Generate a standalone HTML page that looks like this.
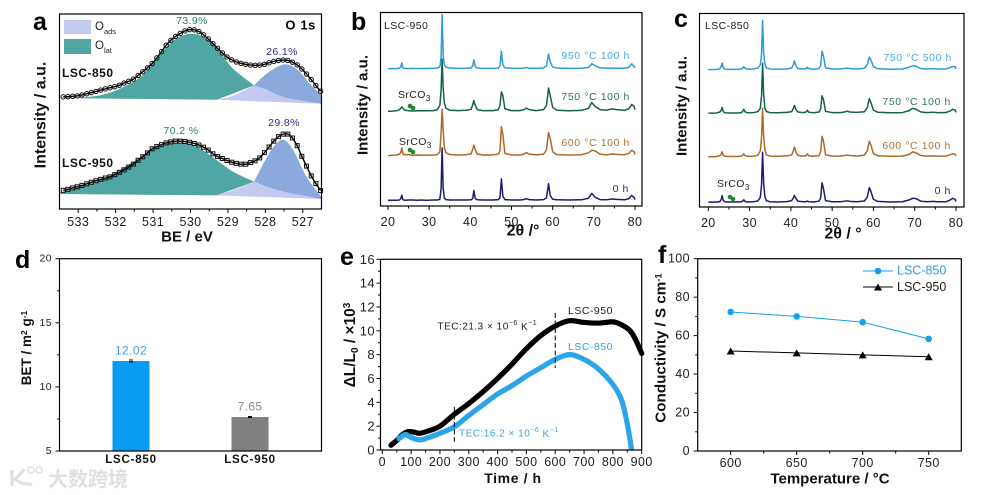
<!DOCTYPE html>
<html lang="en">
<head>
<meta charset="utf-8">
<title>LSC characterization figure</title>
<style>
html,body{margin:0;padding:0;background:#fff;width:991px;height:495px;overflow:hidden}
svg{display:block;font-family:"Liberation Sans","Noto Sans CJK SC",sans-serif}
text{fill:#222}
.letter{font-size:25px;font-weight:bold;fill:#000}
.ax{font-size:15px;font-weight:bold;fill:#111}
</style>
</head>
<body>
<svg id="fig" width="991" height="495" viewBox="0 0 991 495" xmlns="http://www.w3.org/2000/svg">
  <g id="pa"></g>
  <g id="pb"></g>
  <g id="pc"></g>
  <g id="pd"></g>
  <g id="pe"></g>
  <g id="pf"></g>

  <text class="letter" x="33" y="30">a</text>
  <text class="letter" x="351" y="30">b</text>
  <text class="letter" x="674" y="27">c</text>
  <text class="letter" x="15" y="268">d</text>
  <text class="letter" x="340" y="265">e</text>
  <text class="letter" x="658" y="263">f</text>

  <!-- axis titles -->
  <text class="ax" transform="translate(41,115) rotate(-90)" text-anchor="middle" dominant-baseline="central" style="font-size:16px">Intensity / a.u.</text>
  <text class="ax" x="187" y="237" text-anchor="middle" dominant-baseline="central">BE / eV</text>
  <text class="ax" transform="translate(363,105) rotate(-90)" text-anchor="middle" dominant-baseline="central">Intensity / a.u.</text>
  <text class="ax" x="523" y="231" text-anchor="middle" dominant-baseline="central" style="font-size:16px">2θ /°</text>
  <text class="ax" transform="translate(682,106) rotate(-90)" text-anchor="middle" dominant-baseline="central">Intensity / a.u.</text>
  <text class="ax" x="843" y="234" text-anchor="middle" dominant-baseline="central" style="font-size:16px">2θ / °</text>
  <text class="ax" transform="translate(31,348) rotate(-90)" text-anchor="middle" style="font-size:13.5px">BET / m<tspan dy="-4" font-size="8.5">2</tspan><tspan dy="4"> g</tspan><tspan dy="-4" font-size="8.5">-1</tspan></text>
  <text class="ax" transform="translate(355,345) rotate(-90)" text-anchor="middle" style="font-size:15.5px">ΔL/L<tspan dy="3" font-size="10">0</tspan><tspan dy="-3"> / ×10</tspan><tspan dy="-5" font-size="10">3</tspan></text>
  <text class="ax" x="513" y="478" text-anchor="middle" dominant-baseline="central" letter-spacing=".6" style="font-size:14px">Time / h</text>
  <text class="ax" transform="translate(665.5,348) rotate(-90)" text-anchor="middle" style="font-size:15.2px">Conductivity / S cm<tspan dy="-4" font-size="9.5">-1</tspan></text>
  <text class="ax" x="830" y="479" text-anchor="middle" dominant-baseline="central">Temperature / °C</text>

  <!-- watermark -->
  <g>
    <path d="M12 470 V486 M24 469 Q18 477 15 479 Q22 485 32 484" fill="none" stroke="#e0e0e0" stroke-width="3.2"/>
    <circle cx="31" cy="470" r="3" fill="none" stroke="#e0e0e0" stroke-width="1.5"/>
    <circle cx="39" cy="470" r="3" fill="none" stroke="#e0e0e0" stroke-width="1.5"/>
    <text x="48" y="486" font-size="20" font-weight="bold" style="fill:#e0e0e0">大数跨境</text>
  </g>
</svg>
<script>
/* ---------- panel a data ---------- */
var beGrid = [533.4,533.275,533.15,533.025,532.9,532.775,532.65,532.525,532.4,532.275,532.15,532.025,531.9,531.775,531.65,531.525,531.4,531.275,531.15,531.025,530.9,530.775,530.65,530.525,530.4,530.275,530.15,530.025,529.9,529.775,529.65,529.525,529.4,529.275,529.15,529.025,528.9,528.775,528.65,528.525,528.4,528.275,528.15,528.025,527.9,527.775,527.65,527.525,527.4,527.275,527.15,527.025,526.9,526.775,526.65,526.525];
var xps850 = [57.5,57.6,57.8,58,58.5,59.1,59.7,60.3,61,61.6,62.2,62.7,63.5,64.6,65.5,66.6,68.5,70.4,72.4,74.6,77.5,80.7,84,86.5,88.5,90,91.3,92,91.9,91,89.3,87.2,84.8,82.4,80,78,76.5,75.4,74.7,74.2,73.8,73.7,73.8,74.2,75,75.7,76.2,76.4,76.2,75.3,73.9,71.8,69.2,66.4,63.3,60.4];
var xps950 = [9.6,10.1,10.8,11.4,12.1,12.9,13.7,14.5,15.2,15.9,16.5,17.6,18.8,20.1,21.5,23,25,26.8,28.8,30.9,32,33,33.9,34.4,34.8,34.8,34.6,34.2,33.6,32.8,31.7,30.2,28.3,26.9,25.9,24.9,24,23.4,23,23,23.8,24.7,26.2,28.9,31.8,34.8,37.1,38.4,38.4,36.4,32.5,27,22,17,13,9.5];
var fit850TealBE = [533.5,532.41,531.53,531.08,530.64,530.28,529.92,529.57,529.21,528.86,528.3,529.3];
var fit850TealI = [56.9,58.3,65.1,72.7,83,88.4,89.8,87.2,80.4,71.9,63.4,56];
var fit850LavBE = [529.3,528.85,528.3,527.97,527.52,527.08,526.5];
var fit850LavI = [56,58.2,63.4,61.2,57.4,55.7,54];
var fit850BlueBE = [528.3,527.97,527.52,527.17,526.81,526.5,526.5,527.08,527.52,527.97];
var fit850BlueI = [63.4,69.3,74.1,71.9,64.2,58.3,54,55.7,57.4,61.2];
var fit950TealBE = [533.5,533.5,532.41,531.53,530.9,530.37,529.83,529.3,528.86,528.3,529.3];
var fit950TealI = [7.7,8.3,14.8,24.2,32.2,33.9,31.9,25,19.1,14,7];
var fit950LavBE = [529.3,528.86,528.3,527.97,527.52,527.08,526.5];
var fit950LavI = [7,9.7,14,11.4,8.9,7.2,5.1];
var fit950BlueBE = [528.3,528.05,527.78,527.52,527.25,526.9,526.5,526.5,527.08,527.52,527.97];
var fit950BlueI = [14,23.3,31.9,35.6,30,16.5,6.3,5.1,7.2,8.9,11.4];
var aTicks = [533,532,531,530,529,528,527];

/* ---------- panels b, c data ---------- */
var twoTheta = [20,21,22,22.8,23.1,23.35,23.6,24,25,26,27,28,28.3,28.6,28.9,29.5,31,32,32.6,32.9,33.15,33.4,33.7,34.1,35,37,39,40.2,40.6,40.85,41.2,41.7,43,43.7,44,44.3,45.5,46.8,47.2,47.55,47.9,48.4,50,52,53,53.6,54.3,56,57.8,58.5,59,59.4,60,61,64,67,68.7,69.5,70.3,71.5,73,74.4,75.5,77.5,78.5,79.2,79.8,80];
var b0h  = [0,0,0,.1,.8,2.6,.3,0,.1,.1,0,.1,0,.1,0,0,.1,.1,.5,6,27,6,1,.3,.1,.1,.1,.2,1,5,.9,.2,.1,.1,.1,.1,.1,.3,1.2,11,2,.3,.1,.1,.3,.8,.3,.1,.3,1.2,8.5,2.5,.5,.2,.1,.2,1,3.5,1.5,.3,.2,.6,.4,.2,.8,2.5,1.3,.3];
var b600 = [0,.2,.3,.8,1.5,4,1,.4,.6,.2,.4,.2,.3,.3,.2,.3,.3,.6,2,12,24,13,4,1.5,.6,.3,.5,1,3.5,5.5,3,.8,.4,.3,.4,.3,.4,.8,2.5,15,11,1.2,.4,.3,.8,1.6,.8,.4,.8,3,12,9,2,.6,.3,.5,1.5,2.8,2.5,.8,.4,.9,.7,.5,1.2,2.8,2,.5];
var b750 = [0,0,.2,.8,1.5,2.2,1.5,.6,.2,.1,.2,.2,.2,.3,.2,.2,.3,.8,3,11,27,12,4,1.5,.5,.3,.5,1,3.5,5.5,3,.8,.3,.3,.3,.3,.3,.8,3,10,8,1.2,.3,.3,.8,1.6,.8,.3,.8,3,12,8,2,.5,.2,.4,1.5,4.5,2.5,.8,.5,1.2,.8,.5,1.2,3.5,2.5,.8];
var b950 = [0,0,0,.2,.8,3,.6,.1,0,.1,0,.1,0,.1,0,.1,.1,.3,1,6,28,7,2,.7,.3,.1,.2,.4,1.5,4.5,1.2,.3,.1,.1,.1,.1,.1,.3,1.5,9,2,.4,.2,.1,.3,.6,.2,.1,.4,1.5,7.5,3.5,.8,.3,.1,.2,.6,2.5,1.5,.4,.2,.3,.2,.2,.7,2.5,1,.3];
var bOffsets = [3,26,49,71];
var c0h  = [0,0,0,.3,1.2,3.4,1,.2,.1,.1,.1,.2,.5,1.2,.4,.1,.2,.6,2.5,9,25.8,10,3,.7,.2,.1,.3,.8,2.2,3.5,2,.5,.2,.2,.6,.2,.1,.5,2,10,7,.8,.2,.2,.5,.7,.4,.2,.6,2.5,7.5,5.5,1.5,.4,.1,.2,1.2,2,1.8,.5,.2,.4,.2,.2,1,2,1.4,.3];
var c600 = [0,0,.1,.6,1.2,2.5,.8,.2,.1,.1,.1,.3,.7,1.5,.6,.2,.3,.8,3,10,25,11,3.5,.9,.3,.2,.4,.9,3,5,2.6,.7,.3,.5,1.5,.5,.2,.6,2.5,10.5,8,1,.3,.3,.6,.8,.6,.3,.8,3,8,6,1.6,.5,.2,.3,1.2,2.5,2,.6,.3,.4,.3,.3,.9,1.5,1.3,.4];
var c750 = [0,0,.1,.6,1.4,3,.9,.2,.1,.1,.1,.3,.9,2,.7,.2,.3,.8,2.5,9,25.8,10,2.6,.8,.3,.2,.4,.8,2.4,4,2,.6,.3,.6,1.5,.5,.2,.6,2,9,7,.9,.3,.3,.6,1,.6,.4,.7,2.8,7.5,5.5,1.5,.5,.2,.3,1.3,2.5,2,.6,.3,.5,.3,.3,1,2,1.6,.4];
var c500 = [0,0,.1,.5,1.5,3.5,1,.2,.1,.1,.1,.3,.7,1.5,.6,.2,.3,.8,2.5,8,25.5,9,3,.8,.3,.2,.4,.8,2.5,4.5,2.2,.6,.3,.5,1.2,.5,.2,.6,2,9.5,7,.9,.3,.3,.6,.8,.5,.3,.7,2.5,6.5,5,1.5,.5,.2,.3,1.2,2,1.8,.5,.3,.5,.3,.3,1,1.6,1.5,.4];
var cOffsets = [2.5,26,48.5,71];
var xrdTicks = [20,30,40,50,60,70,80];

/* ---------- panel d data ---------- */
var betSamples = ['LSC-850','LSC-950'];
var betValues = [12.02,7.65];
var betLabels = ['12.02','7.65'];
var betErrors = [0.08,0.04];
var betTicks = [5,10,15,20];

/* ---------- panel e data ---------- */
var tec950Time = [30,50,70,90,110,130,160,200,250,300,350,400,450,500,550,600,650,700,750,800,830,860,880,900];
var tec950Val  = [0.4,0.8,1.3,1.55,1.5,1.4,1.6,2,3,3.9,4.9,6,7.2,8.5,9.6,10.4,10.85,10.7,10.65,10.75,10.5,10,9.2,8.1];
var tec850Time = [50,60,80,100,130,160,200,250,300,350,400,450,500,550,600,650,700,750,800,830,850,865];
var tec850Val  = [0.9,1,1.3,1.05,0.85,1.05,1.4,1.95,2.9,3.8,4.7,5.4,6.2,6.9,7.6,8,7.6,6.8,5.5,4.2,2.2,0];
var eXTicks = [0,100,200,300,400,500,600,700,800,900];
var eYTicks = [0,2,4,6,8,10,12,14,16];
var tecMarkerTimes = [250,600];

/* ---------- panel f data ---------- */
var condTemps = [600,650,700,750];
var cond850 = [72.3,70,67,58.3];
var cond950 = [52,51,50,49];
var fXTicks = [600,650,700,750];
var fYTicks = [0,20,40,60,80,100];

/* ---------- helpers ---------- */
var NS = 'http://www.w3.org/2000/svg';
function mk(parent, tag, attrs, name, txt) {
  var el = document.createElementNS(NS, tag);
  for (var k in attrs) el.setAttribute(k, attrs[k]);
  
  
  if (txt !== undefined) el.textContent = txt;
  parent.appendChild(el);
  return el;
}
function linear(d0, d1, r0, r1) { return function (v) { return r0 + (v - d0) * (r1 - r0) / (d1 - d0); }; }
function pts(xs, ys, sx, sy) { return xs.map(function (x, i) { return sx(x).toFixed(2) + ',' + sy(ys[i]).toFixed(2); }).join(' '); }
/* Catmull-Rom spline through screen points; "from" and "to" bound the run */
function spline(xs, ys, sx, sy, from, to, move) {
  var P = [];
  for (var i = from; i <= to; i++) P.push([sx(xs[i]), sy(ys[i])]);
  var d = (move ? 'M' : 'L') + P[0][0].toFixed(2) + ' ' + P[0][1].toFixed(2);
  for (var j = 0; j < P.length - 1; j++) {
    var p0 = P[Math.max(j - 1, 0)], p1 = P[j], p2 = P[j + 1], p3 = P[Math.min(j + 2, P.length - 1)];
    d += ' C' + (p1[0] + (p2[0] - p0[0]) / 6).toFixed(2) + ' ' + (p1[1] + (p2[1] - p0[1]) / 6).toFixed(2) + ' ' +
      (p2[0] - (p3[0] - p1[0]) / 6).toFixed(2) + ' ' + (p2[1] - (p3[1] - p1[1]) / 6).toFixed(2) + ' ' +
      p2[0].toFixed(2) + ' ' + p2[1].toFixed(2);
  }
  return d;
}
function fillPath(xs, ys, sx, sy, breaks) {
  var d = '';
  for (var i = 0; i < breaks.length - 1; i++) d += spline(xs, ys, sx, sy, breaks[i], breaks[i + 1], i === 0) + ' ';
  return d + 'Z';
}
function frame(g, box, name) {
  mk(g, 'rect', {x: box.x0, y: box.y0, width: box.x1 - box.x0, height: box.y1 - box.y0, fill: 'none', stroke: '#000', 'stroke-width': 1.2}, name + '-frame');
}
function tickX(g, box, sx, ticks, minor, name, fs, labelY) {
  ticks.forEach(function (t) {
    mk(g, 'line', {x1: sx(t), x2: sx(t), y1: box.y1, y2: box.y1 + 4, stroke: '#000', 'stroke-width': 1}, name + '-x-tick');
    mk(g, 'text', {x: sx(t), y: labelY, 'text-anchor': 'middle', 'dominant-baseline': 'central', 'font-size': fs, 'letter-spacing': '.4'}, name + '-x-tick-label', t);
  });
  minor.forEach(function (t) {
    mk(g, 'line', {x1: sx(t), x2: sx(t), y1: box.y1, y2: box.y1 + 2.5, stroke: '#000', 'stroke-width': 1}, name + '-x-minor-tick');
  });
}
function tickY(g, box, sy, ticks, minor, name, fs, labelX) {
  ticks.forEach(function (t) {
    mk(g, 'line', {x1: box.x0 - 4, x2: box.x0, y1: sy(t), y2: sy(t), stroke: '#000', 'stroke-width': 1}, name + '-y-tick');
    mk(g, 'text', {x: labelX, y: sy(t), 'text-anchor': 'end', 'dominant-baseline': 'central', 'font-size': fs, 'letter-spacing': '.4'}, name + '-y-tick-label', t);
  });
  minor.forEach(function (t) {
    mk(g, 'line', {x1: box.x0 - 2.5, x2: box.x0, y1: sy(t), y2: sy(t), stroke: '#000', 'stroke-width': 1}, name + '-y-minor-tick');
  });
}
function midpoints(a) { var o = []; for (var i = 0; i < a.length - 1; i++) o.push((a[i] + a[i + 1]) / 2); return o; }
function label(g, x, y, s, color, name, anchor, size, extra) {
  var a = {x: x, y: y, 'dominant-baseline': 'central', 'text-anchor': anchor || 'start', 'font-size': size || 10.5, style: 'fill:' + color};
  if (extra) for (var k in extra) a[k] = extra[k];
  return mk(g, 'text', a, name, s);
}

/* ---------- panel a ---------- */
(function () {
  var g = document.getElementById('pa');
  var box = {x0: 59.5, x1: 321.5, y0: 14, y1: 209};
  var sx = linear(533.5, 526.5, box.x0, box.x1);
  var sy = linear(0, 100, box.y1, box.y0);
  var TEAL = '#4fa6a3', LAV = '#c4c9f0', BLUE = '#8aa9dc';
  mk(g, 'path', {d: fillPath(fit850TealBE, fit850TealI, sx, sy, [0, 10, 11]), fill: TEAL}, 'lsc-850-o-lat-fit');
  mk(g, 'path', {d: fillPath(fit850LavBE, fit850LavI, sx, sy, [0, 2, 6]), fill: LAV}, 'lsc-850-o-ads-tail');
  mk(g, 'path', {d: fillPath(fit850BlueBE, fit850BlueI, sx, sy, [0, 5, 6, 9]), fill: BLUE}, 'lsc-850-o-ads-fit');
  mk(g, 'path', {d: fillPath(fit950TealBE, fit950TealI, sx, sy, [0, 1, 9, 10]), fill: TEAL}, 'lsc-950-o-lat-fit');
  mk(g, 'path', {d: fillPath(fit950LavBE, fit950LavI, sx, sy, [0, 2, 6]), fill: LAV}, 'lsc-950-o-ads-tail');
  mk(g, 'path', {d: fillPath(fit950BlueBE, fit950BlueI, sx, sy, [0, 6, 7, 10]), fill: BLUE}, 'lsc-950-o-ads-fit');
  mk(g, 'path', {d: spline(beGrid, xps850, sx, sy, 0, beGrid.length - 1, true), fill: 'none', stroke: '#000', 'stroke-width': 1.4}, 'lsc-850-envelope-line');
  mk(g, 'path', {d: spline(beGrid, xps950, sx, sy, 0, beGrid.length - 1, true), fill: 'none', stroke: '#000', 'stroke-width': 1.4}, 'lsc-950-envelope-line');
  beGrid.forEach(function (b, i) {
    mk(g, 'circle', {cx: sx(b), cy: sy(xps850[i]), r: 2.2, fill: 'none', stroke: '#111', 'stroke-width': 1}, 'lsc-850-data-point');
    mk(g, 'rect', {x: sx(b) - 2, y: sy(xps950[i]) - 2, width: 4, height: 4, fill: 'none', stroke: '#111', 'stroke-width': 1}, 'lsc-950-data-point');
  });
  frame(g, box, 'panel-a');
  tickX(g, box, sx, aTicks, midpoints(aTicks), 'panel-a', 12.5, 222);
  mk(g, 'rect', {x: 64, y: 20, width: 27, height: 14, fill: LAV}, 'legend-swatch-o-ads');
  mk(g, 'rect', {x: 64, y: 39, width: 27, height: 15, fill: TEAL}, 'legend-swatch-o-lat');
  var t1 = label(g, 95, 27, 'O', '#222', 'legend-label-o-ads', 'start', 11.5);
  var s1 = document.createElementNS(NS, 'tspan'); s1.setAttribute('dy', 4); s1.setAttribute('font-size', 7.5); s1.textContent = 'ads'; t1.appendChild(s1);
  var t2 = label(g, 95, 46, 'O', '#222', 'legend-label-o-lat', 'start', 11.5);
  var s2 = document.createElementNS(NS, 'tspan'); s2.setAttribute('dy', 4); s2.setAttribute('font-size', 7.5); s2.textContent = 'lat'; t2.appendChild(s2);
  label(g, 316, 25, 'O 1s', '#000', 'core-level-label', 'end', 13, {'font-weight': 'bold', 'letter-spacing': '.6'});
  label(g, 192, 21, '73.9%', '#2f7d6e', 'lsc-850-o-lat-percent', 'middle', 10.5, {'letter-spacing': '.4'});
  label(g, 282, 52, '26.1%', '#2b2f85', 'lsc-850-o-ads-percent', 'middle', 10.5, {'letter-spacing': '.4'});
  label(g, 181, 131, '70.2 %', '#2f7d6e', 'lsc-950-o-lat-percent', 'middle', 10.5, {'letter-spacing': '.4'});
  label(g, 284, 123, '29.8%', '#2b2f85', 'lsc-950-o-ads-percent', 'middle', 10.5, {'letter-spacing': '.4'});
  label(g, 62, 73, 'LSC-850', '#111', 'lsc-850-label', 'start', 12, {'font-weight': 'bold', 'letter-spacing': '.5'});
  label(g, 62, 163, 'LSC-950', '#111', 'lsc-950-label', 'start', 12, {'font-weight': 'bold', 'letter-spacing': '.5'});
})();

/* ---------- panels b and c ---------- */
var xrdColors = ['#1c1c72', '#b0672a', '#17604c', '#2f9bd6'];
function xrdPanel(id, name, box, x20, x80, series, offsets) {
  var g = document.getElementById(id);
  var sx = linear(20, 80, x20, x80);
  var sy = linear(0, 100, box.y1, box.y0);
  series.forEach(function (s, k) {
    var ys = s.map(function (v) { return v + offsets[k]; });
    mk(g, 'polyline', {points: pts(twoTheta, ys, sx, sy), fill: 'none', stroke: xrdColors[k], 'stroke-width': 1.5, 'stroke-linejoin': 'round'}, name + '-xrd-trace-' + k);
  });
  frame(g, box, name);
  tickX(g, box, sx, xrdTicks, midpoints(xrdTicks), name, 12.5, box.y1 + 16);
}
xrdPanel('pb', 'panel-b', {x0: 380.5, x1: 642, y0: 12.5, y1: 206}, 388, 635, [b0h, b600, b750, b950], bOffsets);
xrdPanel('pc', 'panel-c', {x0: 699.5, x1: 964, y0: 13.5, y1: 207}, 708.3, 956, [c0h, c600, c750, c500], cOffsets);
(function () {
  var b = document.getElementById('pb'), c = document.getElementById('pc');
  label(b, 384, 26, 'LSC-950', '#222', 'sample-label', 'start', 10.5, {'letter-spacing': '.4'});
  label(b, 630, 56, '950 °C 100 h', '#4aa8e0', 'trace-label-950c', 'end', 10.5, {'letter-spacing': '.6'});
  label(b, 630, 97, '750 °C 100 h', '#2f7566', 'trace-label-750c', 'end', 10.5, {'letter-spacing': '.6'});
  label(b, 630, 143, '600 °C 100 h', '#b06f35', 'trace-label-600c', 'end', 10.5, {'letter-spacing': '.6'});
  label(b, 629, 189, '0 h', '#2a2f80', 'trace-label-0h', 'end', 10.5, {'letter-spacing': '.6'});
  function sr(g, x, y, dx, dy, name) {
    var t = label(g, x, y, 'SrCO', '#222', name, 'start', 10.5, {'letter-spacing': '.4'});
    var s = document.createElementNS(NS, 'tspan'); s.setAttribute('dy', 3); s.setAttribute('font-size', 8); s.textContent = '3'; t.appendChild(s);
    mk(g, 'circle', {cx: dx, cy: dy, r: 2.3, fill: '#1a8a2a'}, name + '-marker');
    mk(g, 'circle', {cx: dx + 3, cy: dy + 2, r: 2.3, fill: '#1a8a2a'}, name + '-marker');
  }
  sr(b, 398, 95, 410, 106, 'srco3-label-750c');
  sr(b, 399, 142, 410, 150, 'srco3-label-600c');
  label(c, 705, 26, 'LSC-850', '#222', 'sample-label', 'start', 10.5, {'letter-spacing': '.4'});
  label(c, 952, 58, '750 °C 500 h', '#4aa8e0', 'trace-label-500h', 'end', 10.5, {'letter-spacing': '.6'});
  label(c, 951, 102, '750 °C 100 h', '#2f7566', 'trace-label-750c', 'end', 10.5, {'letter-spacing': '.6'});
  label(c, 951, 146, '600 °C 100 h', '#b06f35', 'trace-label-600c', 'end', 10.5, {'letter-spacing': '.6'});
  label(c, 951, 191, '0 h', '#2a2f80', 'trace-label-0h', 'end', 10.5, {'letter-spacing': '.6'});
  sr(c, 717, 184, 730, 197, 'srco3-label-0h');
})();

/* ---------- panel d ---------- */
(function () {
  var g = document.getElementById('pd');
  var box = {x0: 59.5, x1: 321.5, y0: 258.7, y1: 451};
  var sy = linear(5, 20, box.y1, box.y0);
  var centers = linear(0, 1, 131, 250);
  var colors = ['#0a9cf5', '#808080'];
  var labelColors = ['#3aa3e0', '#8a8a8a'];
  betValues.forEach(function (v, i) {
    var cx = centers(i);
    mk(g, 'rect', {x: cx - 18.5, y: sy(v), width: 37, height: box.y1 - sy(v), fill: colors[i]}, 'bar-' + betSamples[i].toLowerCase());
    mk(g, 'line', {x1: cx - 2, x2: cx + 2, y1: sy(v + betErrors[i]), y2: sy(v + betErrors[i]), stroke: '#000', 'stroke-width': 1}, 'error-cap-' + betSamples[i].toLowerCase());
    mk(g, 'line', {x1: cx - 2, x2: cx + 2, y1: sy(v - betErrors[i]), y2: sy(v - betErrors[i]), stroke: '#000', 'stroke-width': 1}, 'error-cap-' + betSamples[i].toLowerCase());
    label(g, cx, sy(v) - 10.5, betLabels[i], labelColors[i], 'bar-value-' + betSamples[i].toLowerCase(), 'middle', 12, {'letter-spacing': '.4'});
    label(g, cx, 460, betSamples[i], '#111', 'x-tick-label-' + betSamples[i].toLowerCase(), 'middle', 11.5, {'font-weight': 'bold', 'letter-spacing': '.8'});
  });
  frame(g, box, 'panel-d');
  tickY(g, box, sy, betTicks, midpoints(betTicks), 'panel-d', 10.5, 52);
})();

/* ---------- panel e ---------- */
(function () {
  var g = document.getElementById('pe');
  var box = {x0: 380.5, x1: 641.7, y0: 259.3, y1: 450};
  var sx = linear(0, 900, 382.3, 641.7);
  var sy = linear(0, 16, box.y1, box.y0);
  mk(g, 'path', {d: spline(tec950Time, tec950Val, sx, sy, 0, tec950Time.length - 1, true), fill: 'none', stroke: '#000', 'stroke-width': 5.2, 'stroke-linejoin': 'round', 'stroke-linecap': 'round'}, 'lsc-950-expansion-curve');
  mk(g, 'path', {d: spline(tec850Time, tec850Val, sx, sy, 0, tec850Time.length - 1, true), fill: 'none', stroke: '#2ea4e8', 'stroke-width': 5.2, 'stroke-linejoin': 'round'}, 'lsc-850-expansion-curve');
  mk(g, 'line', {x1: sx(tecMarkerTimes[0]), x2: sx(tecMarkerTimes[0]), y1: 407, y2: 441.7, stroke: '#000', 'stroke-width': 1, 'stroke-dasharray': '5 2.5'}, 'tec-range-start-marker');
  mk(g, 'line', {x1: sx(tecMarkerTimes[1]), x2: sx(tecMarkerTimes[1]), y1: 313, y2: 368, stroke: '#000', 'stroke-width': 1, 'stroke-dasharray': '5 2.5'}, 'tec-range-end-marker');
  frame(g, box, 'panel-e');
  tickX(g, box, sx, eXTicks, midpoints(eXTicks), 'panel-e', 12.5, 462);
  tickY(g, box, sy, eYTicks, midpoints(eYTicks), 'panel-e', 13, 375);
  label(g, 568, 311, 'LSC-950', '#222', 'lsc-950-label', 'start', 10.5, {'letter-spacing': '.5'});
  label(g, 568, 347, 'LSC-850', '#3aa3e0', 'lsc-850-label', 'start', 10.5, {'letter-spacing': '.5'});
  function tec(x, y, val, col, name) {
    var t = label(g, x, y, 'TEC:' + val + ' × 10', col, name, 'start', 10, {'letter-spacing': '.5'});
    var a = document.createElementNS(NS, 'tspan'); a.setAttribute('dy', -4); a.setAttribute('font-size', 7); a.textContent = '−6'; t.appendChild(a);
    var b = document.createElementNS(NS, 'tspan'); b.setAttribute('dy', 4); b.textContent = ' K'; t.appendChild(b);
    var c = document.createElementNS(NS, 'tspan'); c.setAttribute('dy', -4); c.setAttribute('font-size', 7); c.textContent = '−1'; t.appendChild(c);
  }
  tec(437.5, 327, '21.3', '#222', 'tec-label-lsc-950');
  tec(459, 434, '16.2', '#3aa3e0', 'tec-label-lsc-850');
})();

/* ---------- panel f ---------- */
(function () {
  var g = document.getElementById('pf');
  var box = {x0: 697.7, x1: 961.3, y0: 258.7, y1: 451};
  var sx = linear(600, 750, 730.7, 928.7);
  var sy = linear(0, 100, box.y1, box.y0);
  var BLUE = '#14a0ee';
  function tri(x, y, name) {
    mk(g, 'polygon', {points: (x - 4) + ',' + (y + 3.5) + ' ' + (x + 4) + ',' + (y + 3.5) + ' ' + x + ',' + (y - 3.5), fill: '#000'}, name);
  }
  mk(g, 'polyline', {points: pts(condTemps, cond850, sx, sy), fill: 'none', stroke: BLUE, 'stroke-width': 1}, 'lsc-850-line');
  mk(g, 'polyline', {points: pts(condTemps, cond950, sx, sy), fill: 'none', stroke: '#000', 'stroke-width': 1}, 'lsc-950-line');
  condTemps.forEach(function (t, i) {
    mk(g, 'circle', {cx: sx(t), cy: sy(cond850[i]), r: 3.3, fill: BLUE}, 'lsc-850-point');
    tri(sx(t), sy(cond950[i]), 'lsc-950-point');
  });
  frame(g, box, 'panel-f');
  tickX(g, box, sx, fXTicks, midpoints(fXTicks), 'panel-f', 12.5, 463);
  tickY(g, box, sy, fYTicks, midpoints(fYTicks), 'panel-f', 12.5, 690);
  mk(g, 'line', {x1: 863, x2: 893, y1: 271, y2: 271, stroke: BLUE, 'stroke-width': 1}, 'legend-line-lsc-850');
  mk(g, 'circle', {cx: 878, cy: 271, r: 3.3, fill: BLUE}, 'legend-marker-lsc-850');
  label(g, 897, 270.5, 'LSC-850', '#2aa0e8', 'legend-label-lsc-850', 'start', 12.5);
  mk(g, 'line', {x1: 863, x2: 893, y1: 287, y2: 287, stroke: '#000', 'stroke-width': 1}, 'legend-line-lsc-950');
  tri(878, 287, 'legend-marker-lsc-950');
  label(g, 897, 287, 'LSC-950', '#222', 'legend-label-lsc-950', 'start', 12.5);
})();
</script>
</body>
</html>
